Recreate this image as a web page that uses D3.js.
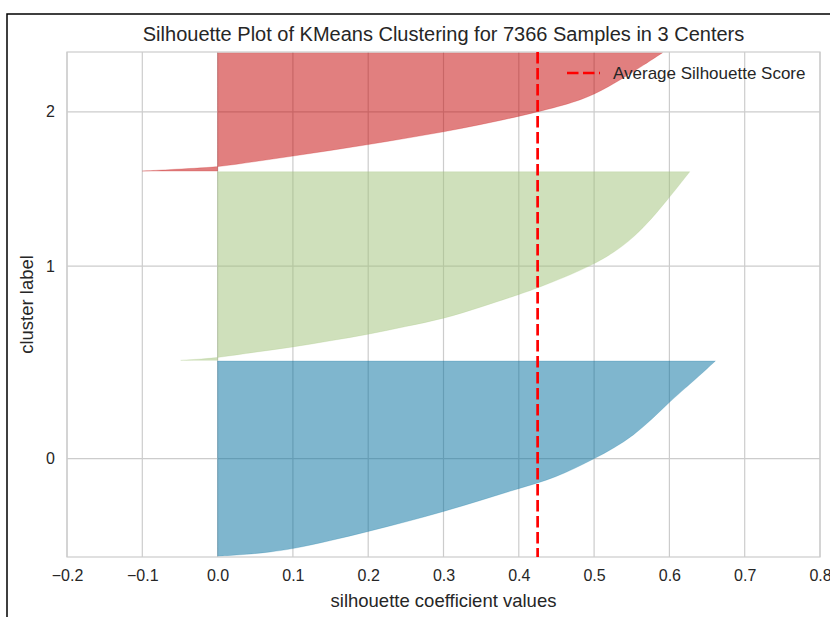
<!DOCTYPE html>
<html>
<head>
<meta charset="utf-8">
<script src="https://cdn.jsdelivr.net/npm/d3@7"></script>
<style>
body { margin: 0; background: white; }
text { font-family: 'Liberation Sans', Arial, sans-serif; fill: #262626; }
</style>
</head>
<body>
<div id="chart"></div>
<script>
/* globals d3 */

// Cluster names, sizes and fill colours (drawn at 50% opacity)
var clusterNames = ['0', '1', '2'];
var clusterSizes = [2864, 2766, 1736];
var clusterColors = ['#006d9d', '#9fc177', '#c30000'];

// Sorted silhouette values per cluster:
// [fraction of the cluster's samples, silhouette value]
var profile0 = [[0, 0.0], [0.01, 0.04], [0.022, 0.07], [0.038, 0.10], [0.08, 0.15],
    [0.127, 0.20], [0.176, 0.25], [0.229, 0.30], [0.287, 0.35], [0.348, 0.40],
    [0.40, 0.448], [0.498, 0.50], [0.61, 0.553], [0.792, 0.60], [0.90, 0.633], [1, 0.661]];
var profile1 = [[0, -0.049], [0.006, -0.025], [0.014, 0.0], [0.044, 0.05], [0.070, 0.10],
    [0.104, 0.15], [0.137, 0.20], [0.18, 0.25], [0.22, 0.30], [0.283, 0.35], [0.349, 0.40],
    [0.379, 0.422], [0.502, 0.50], [0.643, 0.554], [0.863, 0.60], [1, 0.627]];
var profile2 = [[0, -0.10], [0.012, -0.065], [0.024, -0.03], [0.034, 0.0], [0.08, 0.05],
    [0.126, 0.10], [0.174, 0.15], [0.223, 0.20], [0.276, 0.25], [0.33, 0.30], [0.393, 0.35],
    [0.461, 0.40], [0.559, 0.463], [0.642, 0.50], [0.782, 0.538], [0.9, 0.567], [1, 0.591]];
var profiles = [profile0, profile1, profile2];

var avgScore = 0.425;
var nSamples = 7366;
var xTicks = [-0.2, -0.1, 0.0, 0.1, 0.2, 0.3, 0.4, 0.5, 0.6, 0.7, 0.8];

var title = 'Silhouette Plot of KMeans Clustering for 7366 Samples in 3 Centers';
var xlabel = 'silhouette coefficient values';
var ylabel = 'cluster label';
var legendLabel = 'Average Silhouette Score';

// Graph container
var margin = {top: 52, right: 10, bottom: 60, left: 67};
var width = 830 - margin.left - margin.right;
var height = 617 - margin.top - margin.bottom;
var gridColor = '#cccccc';

var svg = d3.select('#chart').append('svg')
    .attr('width', 830)
    .attr('height', 617)
    .style('display', 'block');

// outer frame of the screenshot
svg.append('rect')
    .attr('x', 7).attr('y', 14)
    .attr('width', 900).attr('height', 700)
    .attr('fill', 'none')
    .attr('stroke', '#000')
    .attr('stroke-width', 1.5);

var g = svg.append('g')
    .attr('transform', 'translate(' + margin.left + ',' + margin.top + ')');

var x = d3.scaleLinear().domain([-0.2, 0.8]).range([0, width]);
var y = d3.scaleLinear()
    .domain([0, nSamples + (clusterNames.length + 1) * 10])
    .range([height, 0]);

// Cluster bands stacked from the bottom with a 10 sample gap
var clusters = [];
var yLower = 10;
clusterNames.forEach(function(name, i) {
    clusters.push({name: name, lower: yLower, size: clusterSizes[i],
        color: clusterColors[i], profile: profiles[i]});
    yLower += clusterSizes[i] + 10;
});
var yTickPos = clusters.map(function(c) { return c.lower + 0.5 * c.size; });

// Grid
g.selectAll('.vgrid')
    .data(xTicks)
    .enter().append('line')
    .attr('class', 'vgrid')
    .attr('x1', function(d) { return x(d); })
    .attr('x2', function(d) { return x(d); })
    .attr('y1', 0).attr('y2', height)
    .attr('stroke', gridColor)
    .attr('stroke-width', 1.2);

g.selectAll('.hgrid')
    .data(yTickPos)
    .enter().append('line')
    .attr('class', 'hgrid')
    .attr('x1', 0).attr('x2', width)
    .attr('y1', function(d) { return y(d); })
    .attr('y2', function(d) { return y(d); })
    .attr('stroke', gridColor)
    .attr('stroke-width', 1.2);

// Silhouette areas
clusters.forEach(function(c) {
    var area = d3.area()
        .curve(d3.curveBasis)
        .y(function(d) { return y(c.lower + d[0] * c.size); })
        .x0(x(0))
        .x1(function(d) { return x(d[1]); });
    g.append('path')
        .datum(c.profile)
        .attr('d', area)
        .attr('fill', c.color)
        .attr('fill-opacity', 0.5)
        .attr('stroke', c.color)
        .attr('stroke-opacity', 0.25)
        .attr('stroke-width', 0.8);
});

// Frame
g.append('rect')
    .attr('width', width)
    .attr('height', height)
    .attr('fill', 'none')
    .attr('stroke', gridColor)
    .attr('stroke-width', 1.2);

// Average score line
g.append('line')
    .attr('x1', x(avgScore)).attr('x2', x(avgScore))
    .attr('y1', 0).attr('y2', height)
    .attr('stroke', 'red')
    .attr('stroke-width', 2.7)
    .attr('stroke-dasharray', '11.5,4.5');

// Axes
var xAxis = d3.axisBottom(x)
    .tickValues(xTicks)
    .tickFormat(d3.format('.1f'))
    .tickSize(0)
    .tickPadding(13);

var yAxis = d3.axisLeft(y)
    .tickValues(yTickPos)
    .tickFormat(function(d, i) { return clusterNames[i]; })
    .tickSize(0)
    .tickPadding(12);

g.append('g')
    .attr('class', 'x axis')
    .attr('transform', 'translate(0,' + height + ')')
    .call(xAxis);

g.append('g')
    .attr('class', 'y axis')
    .call(yAxis);

g.selectAll('.axis .domain').remove();
g.selectAll('.axis text')
    .attr('font-family', null)
    .style('font-size', '16px')
    .attr('fill', '#262626');

// Titles
svg.append('text')
    .attr('x', margin.left + width / 2)
    .attr('y', 40.5)
    .style('text-anchor', 'middle')
    .style('font-size', '20px')
    .text(title);

svg.append('text')
    .attr('x', margin.left + width / 2)
    .attr('y', 607)
    .style('text-anchor', 'middle')
    .style('font-size', '18.5px')
    .text(xlabel);

svg.append('text')
    .attr('transform', 'translate(33,' + (margin.top + height / 2) + ') rotate(-90)')
    .style('text-anchor', 'middle')
    .style('font-size', '18.5px')
    .text(ylabel);

// Legend
var legend = svg.append('g')
    .attr('class', 'legend')
    .attr('transform', 'translate(567,73)');

legend.append('line')
    .attr('x1', 0).attr('x2', 33)
    .attr('y1', 0).attr('y2', 0)
    .attr('stroke', 'red')
    .attr('stroke-width', 2.7)
    .attr('stroke-dasharray', '11.5,4.5');

legend.append('text')
    .attr('x', 46)
    .attr('y', 6)
    .style('font-size', '17px')
    .text(legendLabel);
</script>
</body>
</html>
